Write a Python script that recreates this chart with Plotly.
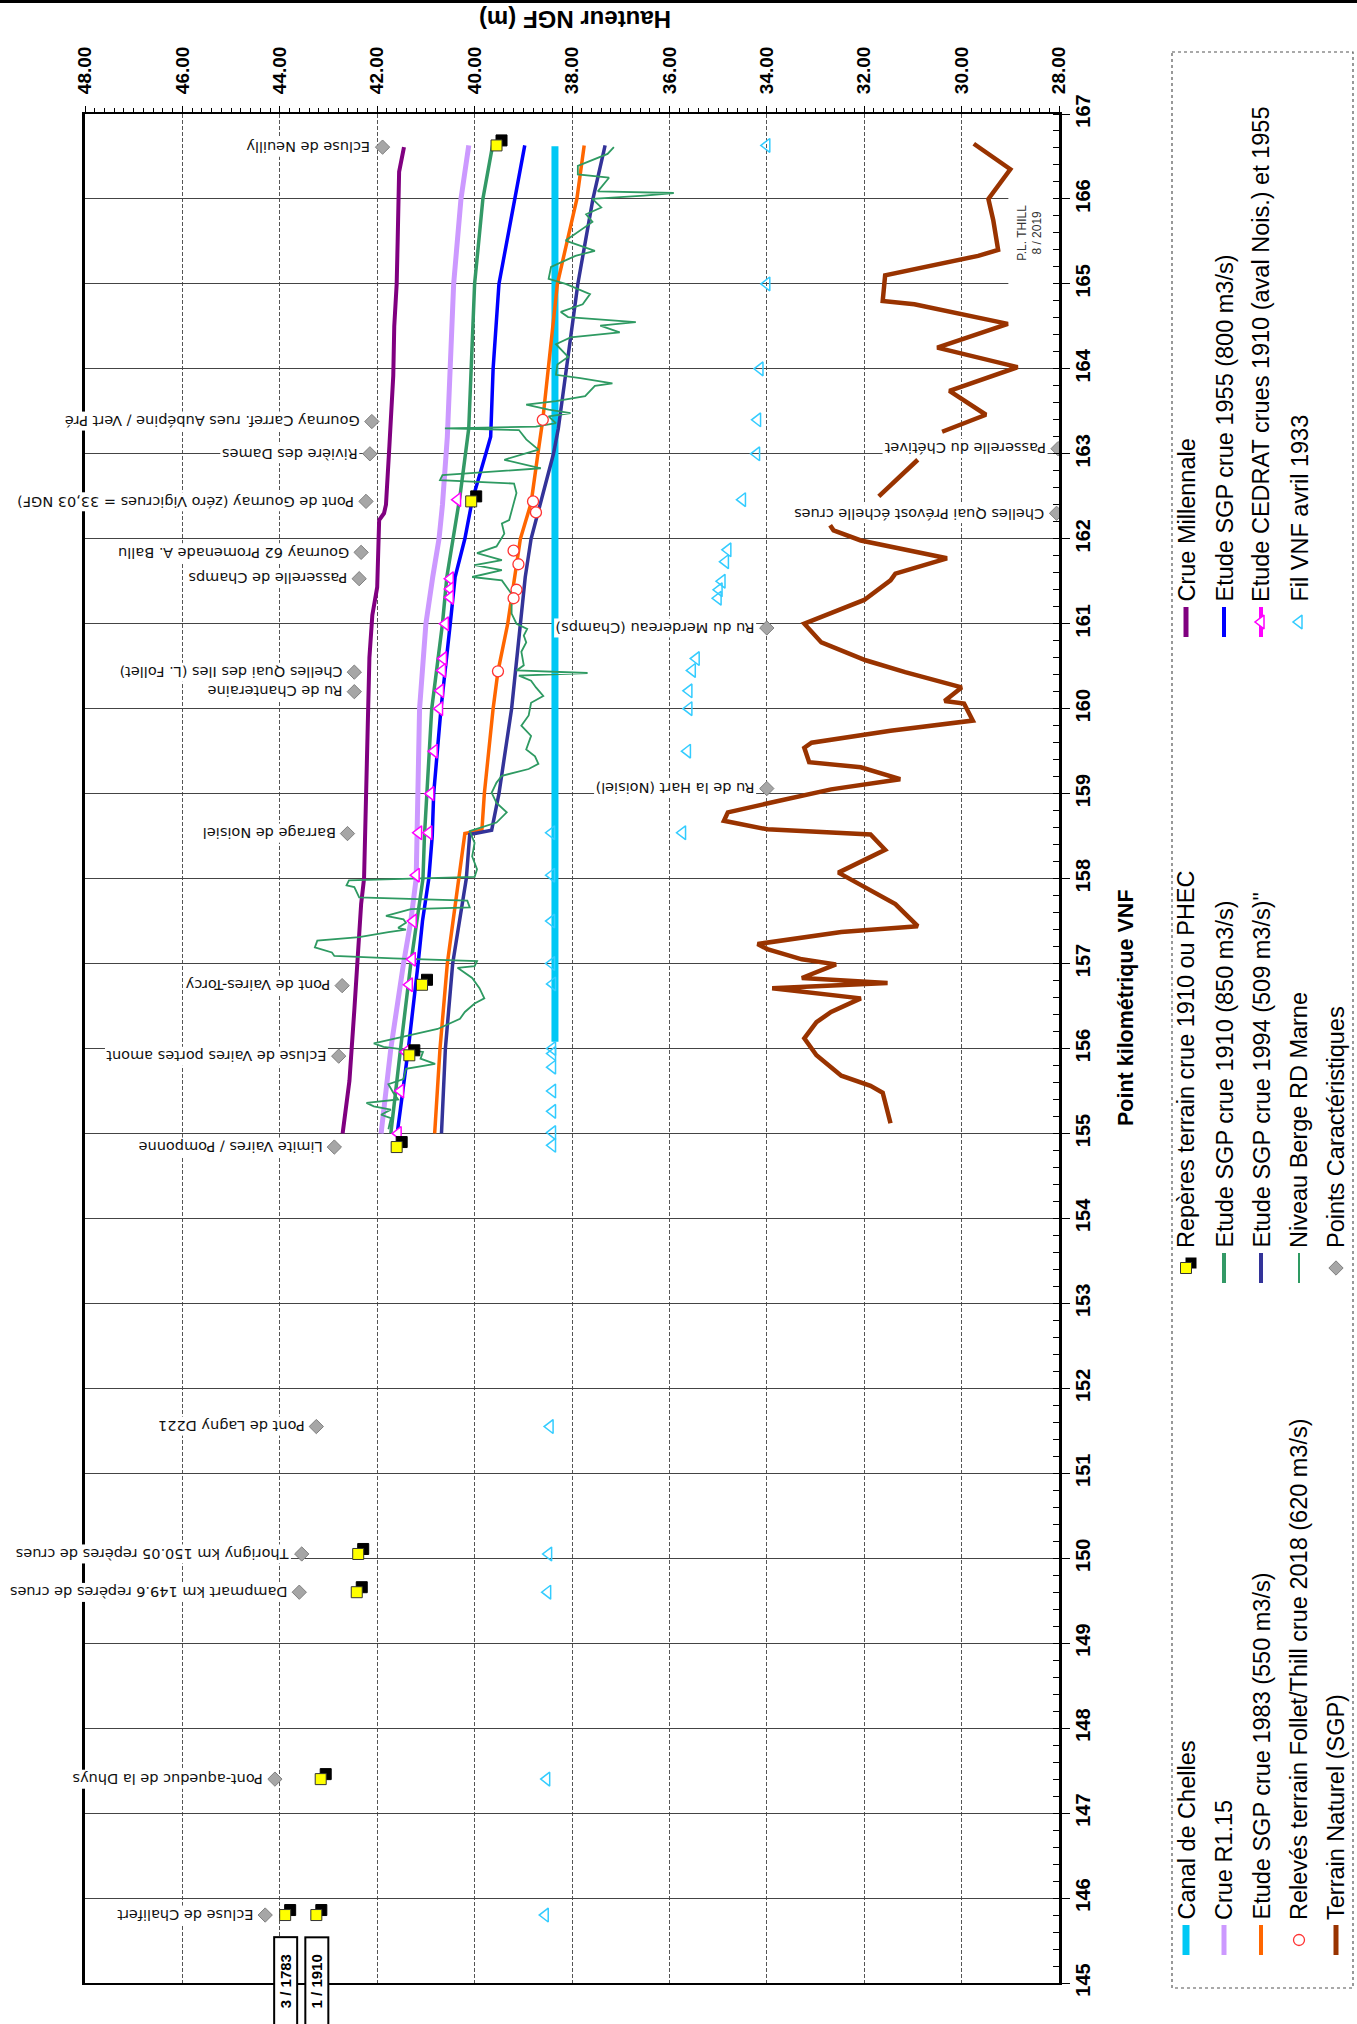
import plotly.graph_objects as go

# ---------------------------------------------------------------------------
# Data: water levels (m NGF) along the Marne, by VNF kilometre point
# ---------------------------------------------------------------------------
mil_km = [166.61, 166.32, 165.5, 165.0, 164.5, 163.92, 163.09, 162.4, 162.3, 162.22, 161.43,
          161.1, 160.6, 159.5, 158.94, 158.0, 157.7, 157.0, 156.45, 155.62, 155.0]
mil_h = [41.45, 41.55, 41.58, 41.6, 41.65, 41.67, 41.75, 41.82, 41.86, 41.96, 42.0,
         42.1, 42.16, 42.2, 42.23, 42.27, 42.33, 42.42, 42.47, 42.57, 42.71]

r115_km = [166.63, 166.0, 165.0, 164.0, 163.2, 162.4, 162.0, 161.55, 161.0, 160.0, 159.0,
           158.5, 158.0, 157.5, 157.0, 156.0, 155.3, 155.0]
r115_h = [40.12, 40.28, 40.43, 40.5, 40.56, 40.66, 40.73, 40.86, 41.0, 41.13, 41.16,
          41.18, 41.2, 41.31, 41.46, 41.72, 41.85, 41.92]

sgp1910_km = [166.63, 166.0, 165.0, 164.0, 163.3, 162.5, 162.0, 161.55, 161.0, 160.0, 159.0,
              158.5, 158.0, 157.0, 156.0, 155.3, 155.0]
sgp1910_h = [39.63, 39.83, 40.0, 40.08, 40.12, 40.3, 40.45, 40.57, 40.66, 40.88, 40.98,
             41.03, 41.06, 41.31, 41.52, 41.67, 41.72]

sgp1955_km = [166.63, 166.0, 165.0, 164.0, 163.2, 163.0, 162.45, 162.0, 161.55, 161.0, 160.0,
              159.0, 158.5, 158.0, 157.5, 157.0, 156.0, 155.3, 155.0]
sgp1955_h = [38.97, 39.17, 39.5, 39.62, 39.67, 39.77, 40.05, 40.2, 40.4, 40.5, 40.69,
             40.84, 40.87, 40.94, 41.07, 41.16, 41.36, 41.52, 41.59]

sgp1983_km = [166.63, 166.0, 165.0, 164.0, 163.4, 163.0, 162.42, 162.0, 161.55, 161.0, 160.44,
              160.0, 159.0, 158.57, 158.53, 158.0, 157.0, 156.0, 155.0]
sgp1983_h = [37.75, 37.9, 38.3, 38.48, 38.6, 38.7, 38.84, 39.06, 39.17, 39.32, 39.52,
             39.62, 39.8, 39.85, 40.2, 40.33, 40.56, 40.71, 40.82]

sgp1994_km = [166.63, 166.0, 165.0, 164.0, 163.3, 163.0, 162.42, 162.0, 161.55, 161.0, 160.0,
              159.0, 158.57, 158.52, 158.0, 157.0, 156.0, 155.0]
sgp1994_h = [37.32, 37.57, 37.88, 38.12, 38.28, 38.38, 38.64, 38.84, 38.96, 39.06, 39.24,
             39.5, 39.65, 40.1, 40.17, 40.45, 40.6, 40.68]

canal_km = [166.62, 156.08]
canal_h = [38.35, 38.35]

berge_km = [166.61, 166.53, 166.39, 166.29, 166.25, 166.09, 166.07, 166.04, 166.0, 165.9,
            165.82, 165.73, 165.51, 165.39, 165.33, 165.2, 165.06, 165.0, 164.88, 164.76,
            164.67, 164.61, 164.55, 164.51, 164.43, 164.37, 164.29, 164.14, 164.05,
            163.93, 163.89, 163.83, 163.8, 163.74, 163.68, 163.62, 163.58, 163.52, 163.48,
            163.44, 163.36, 163.32, 163.3, 163.28, 163.17, 163.05, 162.93, 162.83, 162.75,
            162.69, 162.65, 162.54, 162.22, 162.18, 162.06, 161.91, 161.83, 161.75, 161.69,
            161.63, 161.55, 161.51, 161.43, 161.35, 161.12, 161.0,
            160.94, 160.86, 160.78, 160.67, 160.51, 160.45, 160.42, 160.39, 160.33, 160.25,
            160.15, 160.07, 159.92, 159.8, 159.68, 159.52, 159.44, 159.35, 159.29, 159.21,
            159.13, 159.01, 158.89, 158.78, 158.66, 158.56, 158.42, 158.26, 158.11, 158.02,
            157.98, 157.92, 157.9, 157.78, 157.74, 157.66, 157.64, 157.56, 157.52, 157.48,
            157.42, 157.4, 157.37, 157.31, 157.27, 157.19, 157.13, 157.09, 157.06, 157.03,
            156.97, 156.95, 156.83, 156.71, 156.59, 156.53, 156.43, 156.35, 156.23, 156.15,
            156.06, 156.02, 155.96, 155.88, 155.82, 155.76, 155.64, 155.58, 155.48, 155.4,
            155.36, 155.32, 155.28, 155.22, 155.18, 155.05]
berge_h = [37.14, 37.27, 37.88, 37.88, 37.24, 37.47, 35.91, 36.52, 37.58, 37.4,
           37.71, 37.58, 38.13, 37.53, 37.93, 38.43, 38.48, 38.13, 37.63, 37.78,
           38.23, 38.08, 36.69, 37.42, 37.02, 38.03, 38.33, 38.08, 38.3,
           38.33, 37.83, 37.17, 37.53, 37.63, 37.73, 38.33, 38.94, 38.48, 38.03,
           38.48, 38.33, 38.74, 40.61, 39.09, 38.94, 38.69, 39.39, 38.64, 40.66,
           40.71, 39.19, 39.14, 39.29, 39.44, 39.39, 39.55, 39.95, 39.44, 40.0,
           39.44, 40.05, 39.44, 39.34, 39.24, 39.24, 39.14,
           38.92, 38.99, 38.94, 39.04, 38.99, 39.14, 37.68, 39.09, 38.84, 38.74,
           38.59, 38.84, 38.89, 39.04, 38.84, 38.94, 38.76, 38.69, 38.89, 39.44,
           39.55, 39.65, 39.55, 39.34, 39.55, 40.1, 40.0, 40.05, 39.95, 40.0,
           42.58, 42.63, 42.47, 42.37, 40.15, 40.1, 41.31, 41.82, 41.46, 41.41,
           41.57, 41.41, 41.77, 42.37, 43.23, 43.28, 42.93, 42.88, 41.67, 39.95,
           40.0, 40.35, 40.05, 39.9, 39.8, 40.0, 40.2, 40.3, 40.76, 41.36,
           42.07, 41.87, 41.06, 41.11, 40.81, 41.41, 41.46, 41.77, 41.67, 41.57,
           42.22, 42.07, 41.72, 41.92, 41.72, 41.77]

terrain_km = [166.65, 166.35, 166.0, 165.75, 165.4, 165.33, 165.1, 164.8, 164.76, 164.53,
              164.25, 164.02, 163.74, 163.46, 163.26, None,
              162.93, 162.5, None,
              162.16, 162.1, 161.98, 161.77, 161.59, 161.51, 161.28, 161.0, 160.78, 160.57,
              160.43, 160.25, 160.09, 160.06, 159.86, 159.74, 159.6, 159.54, 159.37, 159.31,
              159.17, 159.05, 158.91, 158.78, 158.68, 158.58, 158.52, 158.34, 158.07, 157.92,
              157.7, 157.44, 157.37, 157.23, 157.17, 157.05, 156.99, 156.83, 156.77,
              156.71, 156.59, 156.43, 156.31, 156.12, 155.92, 155.68, 155.56, 155.48, 155.12]
terrain_h = [29.75, 29.0, 29.45, 29.35, 29.25, 29.66, 31.57, 31.62, 30.97, 29.05,
             30.5, 28.85, 30.25, 29.5, 30.4, None,
             30.9, 31.7, None,
             32.7, 32.63, 32.07, 30.3, 31.36, 31.46, 32.0, 33.23, 32.88, 31.97,
             31.16, 30.0, 30.35, 29.95, 29.77, 31.46, 33.08, 33.23, 33.13, 32.07,
             31.26, 32.68, 33.79, 34.8, 34.88, 33.99, 31.87, 31.57, 32.53, 32.07,
             31.36, 30.9, 32.47, 34.19, 33.99, 33.28, 32.58, 33.28, 31.52,
             33.89, 32.07, 32.68, 32.98, 33.23, 32.98, 32.47, 31.87, 31.62, 31.46]

releves_km = [163.4, 162.44, 162.31, 161.86, 161.7, 161.4, 161.3, 160.44]
releves_h = [38.6, 38.8, 38.74, 39.2, 39.1, 39.14, 39.2, 39.52]

reperes_km = [166.63, 162.44, 156.75, 155.92, 154.84, 150.05, 149.6, 147.4, 145.8, 145.8]
reperes_h = [39.55, 40.07, 41.08, 41.34, 41.6, 42.39, 42.42, 43.16, 43.89, 43.25]

dated_reperes_h = [43.89, 43.25]
dated_reperes_txt = ["3 / 1783", "1 / 1910"]

cedrat_km = [162.46, 161.53, 161.41, 161.31, 161.0, 160.59, 160.45, 160.21, 160.0, 159.5,
             159.0, 158.54, 158.54, 158.04, 157.5, 157.05, 156.75, 155.96, 155.5, 155.0]
cedrat_h = [40.35, 40.5, 40.5, 40.5, 40.6, 40.64, 40.66, 40.7, 40.72, 40.83,
            40.9, 40.94, 41.15, 41.2, 41.26, 41.28, 41.34, 41.41, 41.52, 41.57]

vnf_km = [166.63, 165.0, 164.0, 163.4, 163.0, 162.46, 161.87, 161.73, 161.5, 161.4,
          161.3, 160.59, 160.45, 160.21, 160.0, 159.5, 158.54, 158.54, 158.04, 157.5,
          157.0, 156.76, 156.0, 155.94, 155.78, 155.5, 155.26, 155.01, 154.86, 151.55,
          150.05, 149.6, 147.4, 145.8]
vnf_h = [34.0, 34.0, 34.14, 34.19, 34.21, 34.5, 34.8, 34.85, 34.92, 34.98,
         35.0, 35.45, 35.53, 35.6, 35.6, 35.63, 35.73, 38.42, 38.42, 38.42,
         38.42, 38.4, 38.4, 38.4, 38.4, 38.4, 38.4, 38.4, 38.4, 38.45,
         38.48, 38.5, 38.52, 38.55]

points_names = [
    "Ecluse de Chalifert", "Pont-aqueduc de la Dhuys", "Dampmart km 149.6 repères de crues",
    "Thorigny km 150.05 repères de crues", "Pont de Lagny D221", "Limite Vaires / Pomponne",
    "Ecluse de Vaires portes amont", "Pont de Vaires-Torcy", "Barrage de Noisiel",
    "Ru de la Hart (Noisiel)", "Ru de Chanteraine", "Chelles Quai des Iles (L. Follet)",
    "Ru du Merdereau (Champs)", "Passerelle de Champs", "Gournay 62 Promenade A. Ballu",
    "Chelles Quai Prévost échelle crues", "Pont de Gournay (zéro Vigicrues = 33,03 NGF)",
    "Rivière des Dames", "Passerelle du Chétivet", "Gournay Carref. rues Aubépine / Vert Pré",
    "Ecluse de Neuilly"]
points_km = [145.8, 147.4, 149.6, 150.05, 151.55, 154.84, 155.91, 156.74, 158.53, 159.06,
             160.2, 160.43, 160.95, 161.53, 161.84, 162.3, 162.44, 163.0, 163.06, 163.38, 166.61]
points_h = [44.3, 44.1, 43.6, 43.55, 43.25, 42.88, 42.79, 42.72, 42.61, 34.0,
            42.47, 42.47, 34.0, 42.37, 42.33, 28.05, 42.23, 42.15, 28.02, 42.11, 41.89]

h_range = [48, 28]
km_range = [145, 167]

# ---------------------------------------------------------------------------
# Page geometry (pixels)
# ---------------------------------------------------------------------------
W, H = 1357, 2024
PL, PR, PT, PB = 85, 1059, 114, 1983


def fx(x):
    return x / W


def fy(y):
    return 1 - y / H


FONT = "Liberation Sans, Arial, sans-serif"
LABEL_FONT = "DejaVu Sans, Arial, sans-serif"

C_CANAL = "#00C8F5"
C_R115 = "#CC99FF"
C_1983 = "#FF6600"
C_RELEVES = "#FF3333"
C_TERRAIN = "#993300"
C_1910 = "#339966"
C_1994 = "#333399"
C_BERGE = "#2E9A62"
C_POINTS = "#A6A6A6"
C_MIL = "#800080"
C_1955 = "#0000FF"
C_CEDRAT = "#FF00FF"
C_VNF = "#33CCFF"

fig = go.Figure()


def line(x, y, color, width, **kw):
    fig.add_trace(go.Scatter(x=x, y=y, mode="lines", line=dict(color=color, width=width),
                             hoverinfo="skip", showlegend=False, connectgaps=False, **kw))


line(canal_h, canal_km, C_CANAL, 7)
line(terrain_h, terrain_km, C_TERRAIN, 4.5)
line(mil_h, mil_km, C_MIL, 4)
line(r115_h, r115_km, C_R115, 5)
line(sgp1910_h, sgp1910_km, C_1910, 3.5)
line(sgp1955_h, sgp1955_km, C_1955, 3.5)
line(sgp1983_h, sgp1983_km, C_1983, 3.5)
line(sgp1994_h, sgp1994_km, C_1994, 3.5)
line(berge_h, berge_km, C_BERGE, 1.8)

fig.add_trace(go.Scatter(x=releves_h, y=releves_km, mode="markers", showlegend=False,
                         marker=dict(symbol="circle", size=11, color="white",
                                     line=dict(color=C_RELEVES, width=1.3))))
fig.add_trace(go.Scatter(x=cedrat_h, y=cedrat_km, mode="markers", showlegend=False,
                         marker=dict(symbol="triangle-left", size=12, color="white",
                                     line=dict(color=C_CEDRAT, width=1.5))))
fig.add_trace(go.Scatter(x=vnf_h, y=vnf_km, mode="markers", showlegend=False,
                         marker=dict(symbol="triangle-left", size=12, color="rgba(255,255,255,0)",
                                     line=dict(color=C_VNF, width=1.5))))
fig.add_trace(go.Scatter(x=points_h, y=points_km, mode="markers", showlegend=False,
                         marker=dict(symbol="diamond", size=11, color=C_POINTS,
                                     line=dict(color="#7F7F7F", width=1))))

# Flood marks: black shadow (shifted axes) under a yellow square
SHIFT = 5
dx = SHIFT * (h_range[0] - h_range[1]) / (PR - PL)
dy = SHIFT * (km_range[1] - km_range[0]) / (PB - PT)
fig.add_trace(go.Scatter(x=reperes_h, y=reperes_km, xaxis="x2", yaxis="y2", mode="markers",
                         showlegend=False,
                         marker=dict(symbol="square", size=11, color="black",
                                     line=dict(color="black", width=1))))
fig.add_trace(go.Scatter(x=reperes_h, y=reperes_km, xaxis="x3", yaxis="y3", mode="markers",
                         showlegend=False,
                         marker=dict(symbol="square", size=11, color="#FFFF00",
                                     line=dict(color="#333333", width=1))))

# ---------------------------------------------------------------------------
# Legend (rotated entries in a dotted frame)
# ---------------------------------------------------------------------------
COLS = [1186, 1224, 1261, 1299, 1336]
ROWS = [622, 1268, 1940]
legend_entries = [
    (0, 0, "Crue Millennale", "line", C_MIL, 5),
    (0, 1, "Etude SGP crue 1955 (800 m3/s)", "line", C_1955, 4),
    (0, 2, "Etude CEDRAT crues 1910 (aval Nois.) et 1955", "cedrat", C_CEDRAT, 4),
    (0, 3, "Fil VNF avril 1933", "vnf", C_VNF, 0),
    (1, 0, "Repères terrain crue 1910 ou PHEC", "repere", "#FFFF00", 0),
    (1, 1, "Etude SGP crue 1910 (850 m3/s)", "line", C_1910, 4),
    (1, 2, "Etude SGP crue 1994 (509 m3/s)\"", "line", C_1994, 4),
    (1, 3, "Niveau Berge RD Marne", "line", C_BERGE, 2),
    (1, 4, "Points Caractéristiques", "point", C_POINTS, 0),
    (2, 0, "Canal de Chelles", "line", C_CANAL, 7),
    (2, 1, "Crue R1.15", "line", C_R115, 5),
    (2, 2, "Etude SGP crue 1983 (550 m3/s)", "line", C_1983, 4),
    (2, 3, "Relevés terrain Follet/Thill crue 2018 (620 m3/s)", "releve", C_RELEVES, 0),
    (2, 4, "Terrain Naturel (SGP)", "line", C_TERRAIN, 5),
]

annotations = []
for row, col, text, kind, color, width in legend_entries:
    cx, cy = COLS[col], ROWS[row]
    if kind in ("line", "cedrat"):
        fig.add_trace(go.Scatter(x=[cx, cx], y=[cy - 15, cy + 15], xaxis="x4", yaxis="y4",
                                 mode="lines", showlegend=False,
                                 line=dict(color=color, width=width)))
    if kind == "cedrat":
        fig.add_trace(go.Scatter(x=[cx], y=[cy], xaxis="x4", yaxis="y4", mode="markers",
                                 showlegend=False,
                                 marker=dict(symbol="triangle-left", size=12, color="white",
                                             line=dict(color=color, width=1.5))))
    elif kind == "vnf":
        fig.add_trace(go.Scatter(x=[cx], y=[cy], xaxis="x4", yaxis="y4", mode="markers",
                                 showlegend=False,
                                 marker=dict(symbol="triangle-left", size=12,
                                             color="rgba(255,255,255,0)",
                                             line=dict(color=color, width=1.5))))
    elif kind == "repere":
        fig.add_trace(go.Scatter(x=[cx + SHIFT], y=[cy - SHIFT], xaxis="x4", yaxis="y4",
                                 mode="markers", showlegend=False,
                                 marker=dict(symbol="square", size=11, color="black")))
        fig.add_trace(go.Scatter(x=[cx], y=[cy], xaxis="x4", yaxis="y4", mode="markers",
                                 showlegend=False,
                                 marker=dict(symbol="square", size=11, color=color,
                                             line=dict(color="#333333", width=1))))
    elif kind == "point":
        fig.add_trace(go.Scatter(x=[cx], y=[cy], xaxis="x4", yaxis="y4", mode="markers",
                                 showlegend=False,
                                 marker=dict(symbol="diamond", size=11, color=color,
                                             line=dict(color="#7F7F7F", width=1))))
    elif kind == "releve":
        fig.add_trace(go.Scatter(x=[cx], y=[cy], xaxis="x4", yaxis="y4", mode="markers",
                                 showlegend=False,
                                 marker=dict(symbol="circle", size=11, color="white",
                                             line=dict(color=color, width=1.3))))
    annotations.append(dict(text=text, x=fx(cx), y=fy(cy - 18), xref="paper", yref="paper",
                            textangle=-90, xanchor="center", yanchor="bottom",
                            showarrow=False, font=dict(family=FONT, size=23.5, color="black")))

# Labels of the characteristic points (upside-down, left of their marker)
for name, km, h in zip(points_names, points_km, points_h):
    annotations.append(dict(text=name, x=h, y=km, xref="x", yref="y", textangle=180,
                            xanchor="right", yanchor="middle", xshift=-10, showarrow=False,
                            bgcolor="white", borderpad=1,
                            font=dict(family=LABEL_FONT, size=14.5, color="#111111")))

# Dated flood marks boxed under the axis
for h, txt in zip(dated_reperes_h, dated_reperes_txt):
    annotations.append(dict(text=txt, x=h, y=fy(1981), xref="x", yref="paper", textangle=-90,
                            xanchor="center", yanchor="middle", showarrow=False,
                            width=84, height=19, borderpad=1, borderwidth=2,
                            bordercolor="black", bgcolor="white",
                            font=dict(family="Liberation Sans Narrow, Arial Narrow, sans-serif",
                                      size=15, color="black", weight="bold")))

# Author stamp
annotations.append(dict(text="P.L. THILL<br>8 / 2019", x=28.6, y=165.6, xref="x", yref="y",
                        textangle=-90, showarrow=False,
                        font=dict(family=FONT, size=12, color="#333333")))

# Axis titles
annotations.append(dict(text="Hauteur NGF (m)", x=fx(575), y=fy(20), xref="paper",
                        yref="paper", textangle=180, xanchor="center", yanchor="middle",
                        showarrow=False,
                        font=dict(family=FONT, size=24, color="black", weight="bold")))
annotations.append(dict(text="Point kilométrique VNF", x=fx(1126), y=fy(1008), xref="paper",
                        yref="paper", textangle=-90, xanchor="center", yanchor="middle",
                        showarrow=False,
                        font=dict(family=FONT, size=21.5, color="black", weight="bold")))

shapes = [
    # legend frame
    dict(type="rect", xref="paper", yref="paper", x0=fx(1172), x1=fx(1353), y0=fy(52),
         y1=fy(1988), line=dict(color="#555555", width=1.2, dash="dot"), fillcolor="rgba(0,0,0,0)"),
    # rule across the top of the sheet
    dict(type="line", xref="paper", yref="paper", x0=0, x1=1, y0=fy(1.5), y1=fy(1.5),
         line=dict(color="black", width=3)),
    # blank area behind the author stamp
    dict(type="rect", xref="x", yref="y", x0=29.04, x1=28.0, y0=164.96, y1=166.04,
         fillcolor="white", line=dict(width=0), layer="between"),
]

tick_font_h = dict(family=FONT, size=19, color="black", weight="bold")
tick_font_km = dict(family=FONT, size=20, color="black", weight="bold")
x_dom = [fx(PL), fx(PR)]
y_dom = [fy(PB), fy(PT)]

fig.update_layout(
    template="none",
    width=W, height=H,
    margin=dict(l=0, r=0, t=0, b=0),
    paper_bgcolor="white", plot_bgcolor="rgba(0,0,0,0)",
    showlegend=False,
    xaxis=dict(domain=x_dom, range=h_range, side="top", anchor="y", tick0=28, dtick=2,
               tickformat=".2f", tickangle=-90, ticks="outside", ticklen=6, tickwidth=1,
               tickcolor="black", ticklabelstandoff=8, tickfont=tick_font_h,
               showgrid=True, gridcolor="#555555", gridwidth=1, griddash="4px,2px",
               showline=True, linecolor="black", linewidth=2, mirror=True, zeroline=False,
               minor=dict(dtick=0.2, ticks="outside", ticklen=4, tickcolor="black",
                          tickwidth=1, showgrid=False)),
    yaxis=dict(domain=y_dom, range=km_range, side="right", anchor="x", tick0=145, dtick=1,
               tickangle=-90, ticks="outside", ticklen=8, tickwidth=1.2, tickcolor="black",
               ticklabelstandoff=-4, tickfont=tick_font_km,
               showgrid=True, gridcolor="#444444", gridwidth=1.2,
               showline=True, linecolor="black", linewidth=2.5, mirror=True, zeroline=False,
               minor=dict(dtick=0.2, ticks="inside", ticklen=6, tickcolor="black",
                          tickwidth=1, showgrid=False)),
    xaxis2=dict(overlaying="x", anchor="y2", range=[h_range[0] + dx, h_range[1] + dx],
                visible=False),
    yaxis2=dict(overlaying="y", anchor="x2", range=[km_range[0] - dy, km_range[1] - dy],
                visible=False),
    xaxis3=dict(overlaying="x", anchor="y3", range=h_range, visible=False),
    yaxis3=dict(overlaying="y", anchor="x3", range=km_range, visible=False),
    xaxis4=dict(domain=[0, 1], anchor="y4", range=[0, W], visible=False),
    yaxis4=dict(domain=[0, 1], anchor="x4", range=[H, 0], visible=False),
    annotations=annotations,
    shapes=shapes,
)

fig.write_html("out.html")
